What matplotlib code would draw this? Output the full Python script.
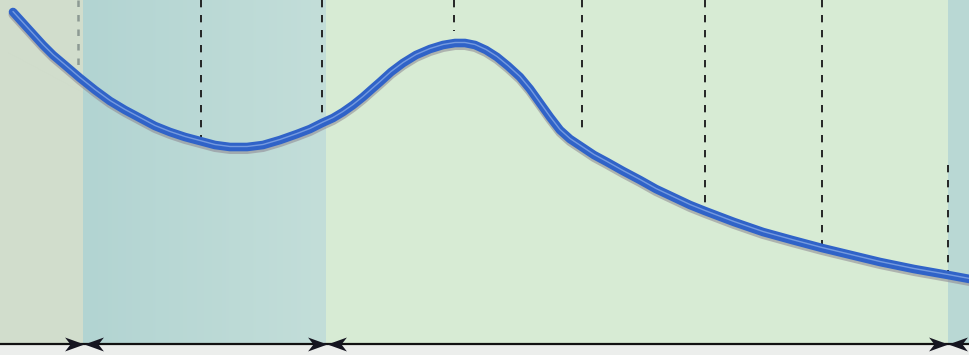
import numpy as np
import matplotlib
matplotlib.use("Agg")
import matplotlib.pyplot as plt
from matplotlib.patches import Rectangle
from matplotlib.path import Path
from matplotlib.colors import to_rgb

# ---- data (pixel-space coordinates of the scanned diagram) ----
curve_x = [13, 23, 33, 43, 53, 66, 80, 95, 110, 125, 140, 155, 170, 185, 200,
           215, 230, 247, 263, 280, 297, 310, 322, 333, 343, 353, 363, 372,
           380, 391, 403, 416, 430, 443, 455, 465, 475, 486, 497, 508, 520,
           530, 540, 550, 560, 570, 582, 594, 607, 623, 640, 656, 673, 690,
           705, 734, 763, 792, 822, 851, 880, 914, 948, 975]
curve_y = [12, 23, 34, 45, 55, 66, 78, 90, 101, 110, 118, 126, 132, 137, 141,
           145, 147, 147, 145, 140, 134, 129, 123, 118, 112, 105, 97, 89,
           82, 72, 63, 55, 49, 45, 43, 43, 45, 50, 57, 66, 77,
           89, 103, 117, 130, 139, 147, 155, 162, 171, 180, 189, 197, 205,
           211, 222, 232, 240, 248, 255, 262, 269, 275, 280]

dash_x = [78, 201, 322, 454, 582, 705, 822, 948]
dash_top = [0, 0, 0, 0, 0, 0, 0, 165]
dash_bottom = [72, 137, 120, 31, 133, 207, 247, 274]

band_edges = [0, 83, 326, 948, 969]
band_colors = ["#d1ddcc", None, "#d7ebd4", "#b9d8d4"]
band2_grad = ["#b2d4d2", "#c3ded9"]
arrow_tips = [84, 327, 948]

W, H = 969, 355
BASE_Y = 344

fig = plt.figure(figsize=(W / 100, H / 100), dpi=100)
fig.patch.set_facecolor("#eceeec")
ax = fig.add_axes([0, 0, 1, 1])
ax.set_xlim(0, W)
ax.set_ylim(H, 0)
ax.axis("off")

# background bands
for i, c in enumerate(band_colors):
    x0, x1 = band_edges[i], band_edges[i + 1]
    if c is None:
        c0, c1 = np.array(to_rgb(band2_grad[0])), np.array(to_rgb(band2_grad[1]))
        t = np.linspace(0, 1, 400)[None, :, None]
        img = c0 + (c1 - c0) * t
        ax.imshow(img, extent=(x0, x1, BASE_Y, 0), aspect="auto", zorder=0,
                  interpolation="bilinear")
    else:
        ax.add_patch(Rectangle((x0, 0), x1 - x0, BASE_Y, facecolor=c,
                               edgecolor="none", zorder=0))
ax.set_xlim(0, W)
ax.set_ylim(H, 0)

# dashed guide lines
for i, (x, y0, y1) in enumerate(zip(dash_x, dash_top, dash_bottom)):
    if i == 0:
        ax.plot([x, x], [y0, y1], color="#8d9a93", lw=1.8,
                linestyle=(0, (2.6, 3.2)), zorder=1)
    else:
        ax.plot([x, x], [y0, y1], color="#1e1e1e", lw=1.35,
                linestyle=(0, (3.9, 4.1)), zorder=1)

# curve: shadow, body, highlight
cx = np.array(curve_x, dtype=float)
cy = np.array(curve_y, dtype=float)
ax.plot(cx, cy + 2.5, color="#8c8590", lw=6.5, alpha=0.55,
        solid_capstyle="round", solid_joinstyle="round", zorder=2)
ax.plot(cx, cy, color="#3063c8", lw=6.2,
        solid_capstyle="round", solid_joinstyle="round", zorder=3)
ax.plot(cx, cy - 0.5, color="#86a8e6", lw=1.0, alpha=0.8,
        solid_capstyle="round", solid_joinstyle="round", zorder=4)

# baseline with arrow heads
ax.plot([0, W], [BASE_Y, BASE_Y], color="#111111", lw=1.6, zorder=5)
head_r = Path([(0, 0), (-1, 0.36), (-0.72, 0), (-1, -0.36), (0, 0)],
              [Path.MOVETO, Path.LINETO, Path.LINETO, Path.LINETO, Path.CLOSEPOLY])
head_l = Path([(0, 0), (1, 0.36), (0.72, 0), (1, -0.36), (0, 0)],
              [Path.MOVETO, Path.LINETO, Path.LINETO, Path.LINETO, Path.CLOSEPOLY])
for xt in arrow_tips:
    ax.plot([xt], [BASE_Y], marker=head_r, markersize=28, color="#151520",
            markeredgewidth=0, linestyle="none", zorder=6)
    ax.plot([xt], [BASE_Y], marker=head_l, markersize=28, color="#151520",
            markeredgewidth=0, linestyle="none", zorder=6)

fig.savefig("out.png", dpi=100, facecolor=fig.get_facecolor())
